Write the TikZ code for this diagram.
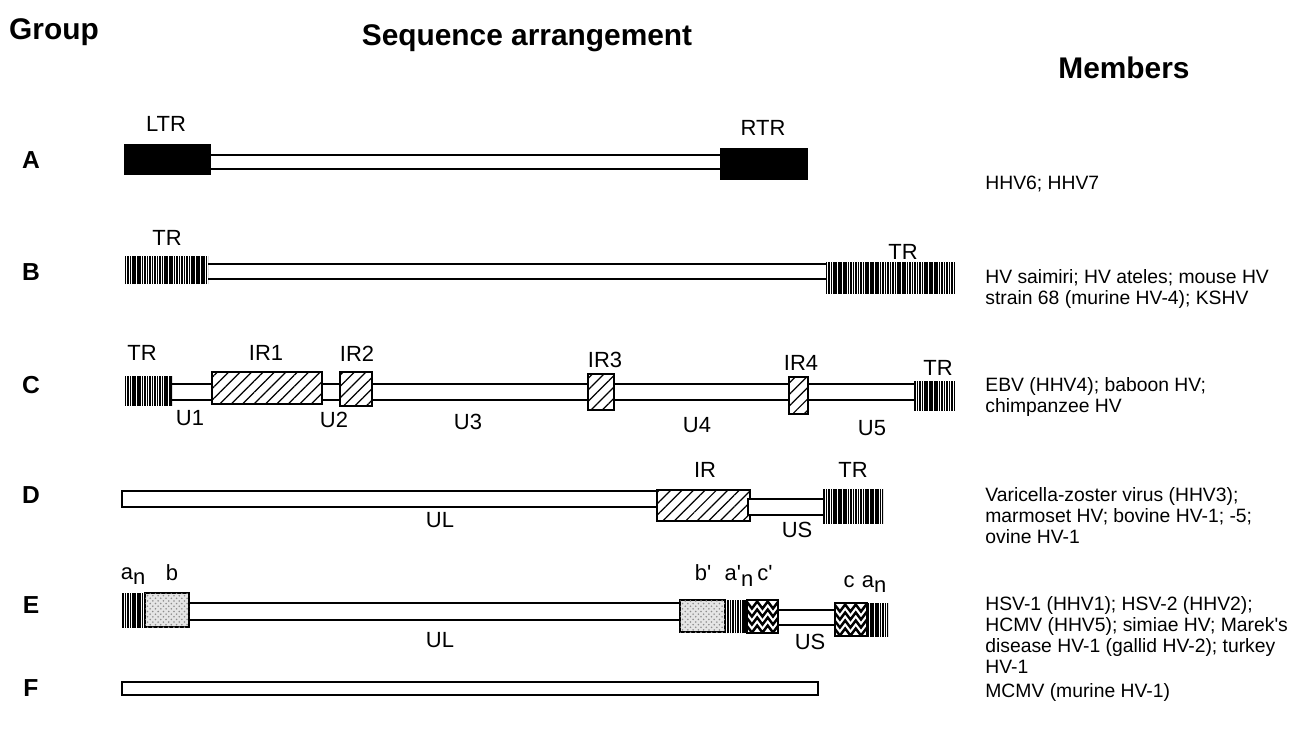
\documentclass[tikz,border=0pt]{standalone}
\usepackage{fontspec}
\setmainfont{Liberation Sans}[Ligatures=TeXOff]
\usetikzlibrary{patterns, patterns.meta, decorations.pathmorphing}

\tikzset{
  bar/.style={draw, line width=0.8pt, fill=white},
  solidbox/.style={fill=black},
  trbox/.style={fill=white, postaction={pattern={Lines[angle=90, distance=1.4pt, line width=0.95pt]}}},
  hatchbox/.style={draw, line width=0.9pt, fill=white, postaction={pattern={Lines[angle=45, distance=4.6pt, line width=0.7pt]}}},
  dotbox/.style={draw, line width=0.9pt, fill=black!10, postaction={pattern=crosshatch dots, pattern color=black!45}},
  wave/.style={decorate, decoration={zigzag, segment length=6pt, amplitude=2pt}, line width=1.4pt},
  lab/.style={inner sep=0pt, font=\fontsize{12.5}{14}\selectfont},
  grp/.style={inner sep=0pt, font=\fontsize{14}{16}\selectfont\bfseries},
  hdr/.style={inner sep=0pt, font=\fontsize{17}{19}\selectfont\bfseries},
  mem/.style={inner sep=0pt, anchor=north west, align=left, font=\fontsize{11}{12}\selectfont}
}

% box with white zigzag bands
\newcommand\wavebox[4]{%
  \fill[white] (#1,#2) rectangle (#3,#4);
  \begin{scope}
    \clip (#1,#2) rectangle (#3,#4);
    \foreach \k in {0,...,3}
      \draw[wave] (#1-3,{#2+5+\k*8}) -- (#3+3,{#2+5+\k*8});
  \end{scope}
  \draw[line width=1pt] (#1,#2) rectangle (#3,#4);}

\newcommand\an{a\raisebox{-0.45ex}{n}}

\begin{document}
\begin{tikzpicture}[x=0.02cm, y=-0.02cm]
  \useasboundingbox (0,0) rectangle (1295,738);

  % headings
  \node[hdr] (hgroup) at (54,32) {Group};
  \node[hdr] (hseq) at (527,38) {Sequence arrangement};
  \node[hdr] (hmem) at (1124,68) {Members};

  % group A
  \node[grp] (ga) at (31,160) {A};
  \draw[bar] (205,155) rectangle (725,169);
  \fill[solidbox] (124,144) rectangle (211,175);
  \fill[solidbox] (720,148) rectangle (808,180);
  \node[lab] (ltr) at (166,124) {LTR};
  \node[lab] (rtr) at (763,128) {RTR};
  \node[mem] (ma) at (985,176) {HHV6; HHV7};

  % group B
  \node[grp] (gb) at (31,272) {B};
  \draw[bar] (205,264) rectangle (830,279);
  \path[trbox] (124,256) rectangle (208,284);
  \path[trbox] (826,262) rectangle (955,293);
  \node[lab] (tr1) at (167,238) {TR};
  \node[lab] (tr2) at (903,252) {TR};
  \node[mem] (mb) at (985,269) {HV saimiri; HV ateles; mouse HV\\strain 68 (murine HV-4); KSHV};

  % group C
  \node[grp] (gc) at (31,385) {C};
  \draw[bar] (170,384) rectangle (916,400);
  \path[trbox] (124,376) rectangle (172,405);
  \draw[hatchbox] (212,372) rectangle (322,404);
  \draw[hatchbox] (340,372) rectangle (372,406);
  \draw[hatchbox] (588,374) rectangle (614,410);
  \draw[hatchbox] (789,377) rectangle (808,414);
  \path[trbox] (914,381) rectangle (955,410);
  \node[lab] (tr3) at (142,353) {TR};
  \node[lab] (ir1) at (266,353) {IR1};
  \node[lab] (ir2) at (357,354) {IR2};
  \node[lab] (ir3) at (605,360) {IR3};
  \node[lab] (ir4) at (801,363) {IR4};
  \node[lab] (tr4) at (938,368) {TR};
  \node[lab] (u1) at (190,418) {U1};
  \node[lab] (u2) at (334,420) {U2};
  \node[lab] (u3) at (468,422) {U3};
  \node[lab] (u4) at (697,425) {U4};
  \node[lab] (u5) at (872,428) {U5};
  \node[mem] (mc) at (985,377) {EBV (HHV4); baboon HV;\\chimpanzee HV};

  % group D
  \node[grp] (gd) at (31,495) {D};
  \draw[bar] (122,491) rectangle (660,507);
  \draw[hatchbox] (657,490) rectangle (750,521);
  \draw[bar] (748,499) rectangle (825,515);
  \path[trbox] (823,489) rectangle (883,523);
  \node[lab] (ir) at (705,470) {IR};
  \node[lab] (tr5) at (853,470) {TR};
  \node[lab] (ul1) at (440,520) {UL};
  \node[lab] (us1) at (797,530) {US};
  \node[mem] (md) at (985,487) {Varicella-zoster virus (HHV3);\\marmoset HV; bovine HV-1; -5;\\ovine HV-1};

  % group E
  \node[grp] (ge) at (31,605) {E};
  \draw[bar] (187,603) rectangle (682,620);
  \draw[bar] (776,610) rectangle (837,625);
  \path[trbox] (122,593) rectangle (145,627);
  \draw[dotbox] (145,593) rectangle (189,627);
  \draw[dotbox] (680,600) rectangle (725,632);
  \path[trbox] (725,600) rectangle (747,633);
  \wavebox{747}{600}{778}{633}
  \wavebox{835}{603}{867}{636}
  \path[trbox] (867,603) rectangle (888,636);
  \node[lab] (an1) at (133,576) {\an};
  \node[lab] (lb) at (172,573) {b};
  \node[lab] (lbp) at (703,573) {b'};
  \node[lab] (anp) at (739,576) {a'\raisebox{-0.45ex}{n}};
  \node[lab] (lcp) at (765,573) {c'};
  \node[lab] (lc) at (849,582) {c};
  \node[lab] (an2) at (874,584) {\an};
  \node[lab] (ul2) at (440,640) {UL};
  \node[lab] (us2) at (810,642) {US};
  \node[mem] (me) at (985,596) {HSV-1 (HHV1); HSV-2 (HHV2);\\HCMV (HHV5); simiae HV; Marek's\\disease HV-1 (gallid HV-2); turkey\\HV-1};

  % group F
  \node[grp] (gf) at (31,688) {F};
  \draw[bar] (122,682) rectangle (818,695);
  \node[mem] (mf) at (985,683) {MCMV (murine HV-1)};
\end{tikzpicture}
\end{document}
